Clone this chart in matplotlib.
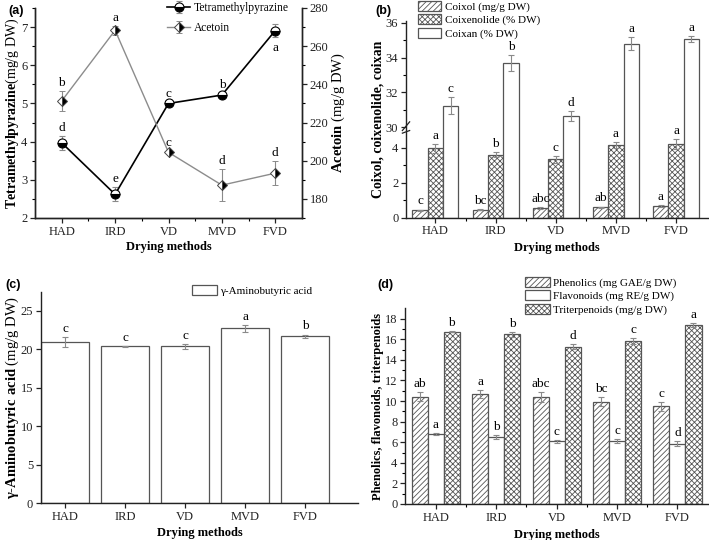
import numpy as np
import matplotlib
matplotlib.use('Agg')
import matplotlib.pyplot as plt

plt.rcParams['font.family'] = ['Liberation Serif', 'DejaVu Serif']
plt.rcParams['mathtext.fontset'] = 'custom'
plt.rcParams['mathtext.rm'] = 'Liberation Serif'
plt.rcParams['mathtext.bf'] = 'Liberation Serif:bold'
plt.rcParams['hatch.linewidth'] = 0.6
plt.rcParams['axes.linewidth'] = 1.0

methods = ['HAD', 'IRD', 'VD', 'MVD', 'FVD']

# (a) tetramethylpyrazine (left axis) and acetoin (right axis)
tmp = [3.97, 2.62, 5.00, 5.22, 6.91]
tmp_err = [0.18, 0.18, 0.04, 0.04, 0.17]
tmp_let = ['d', 'e', 'c', 'b', 'a']
acetoin = [231.3, 268.3, 204.4, 187.2, 193.5]
acetoin_err = [5.0, 2.2, 0.5, 8.5, 6.2]
acetoin_let = ['b', 'a', 'c', 'd', 'd']

# (b) coixol, coixenolide, coixan
coixol = [0.42, 0.46, 0.55, 0.58, 0.66]
coixol_err = [0.04, 0.05, 0.04, 0.05, 0.04]
coixol_let = ['c', 'bc', 'abc', 'ab', 'a']
coixenolide = [3.98, 3.62, 3.34, 4.17, 4.22]
coixenolide_err = [0.25, 0.15, 0.2, 0.18, 0.3]
coixenolide_let = ['a', 'b', 'c', 'a', 'a']
coixan = [31.23, 33.7, 30.64, 34.8, 35.08]
coixan_err = [0.5, 0.46, 0.3, 0.38, 0.16]
coixan_let = ['c', 'b', 'd', 'a', 'a']

# (c) GABA
gaba = [20.95, 20.42, 20.38, 22.72, 21.68]
gaba_err = [0.65, 0.05, 0.3, 0.5, 0.25]
gaba_let = ['c', 'c', 'c', 'a', 'b']

# (d) phenolics, flavonoids, triterpenoids
phen = [10.43, 10.69, 10.37, 9.95, 9.47]
phen_err = [0.45, 0.38, 0.48, 0.4, 0.42]
phen_let = ['ab', 'a', 'abc', 'bc', 'c']
flav = [6.83, 6.50, 6.08, 6.14, 5.87]
flav_err = [0.1, 0.2, 0.12, 0.18, 0.25]
flav_let = ['a', 'b', 'c', 'c', 'd']
trit = [16.74, 16.48, 15.29, 15.80, 17.39]
trit_err = [0.08, 0.25, 0.2, 0.3, 0.2]
trit_let = ['b', 'b', 'd', 'c', 'a']

W, H = 709, 540
fig = plt.figure(figsize=(W / 100, H / 100), dpi=100)


def box(l, r, t, b):
    return [l / W, 1 - b / H, (r - l) / W, (b - t) / H]


def style(ax, spines=('left', 'bottom')):
    for s in ax.spines:
        ax.spines[s].set_visible(s in spines)
        ax.spines[s].set_color('#222222')
    ax.tick_params(direction='out', length=3.5, width=0.9, pad=2, labelsize=9, colors='#222222')
    ax.tick_params(which='minor', direction='out', length=2, width=0.8)


def letters(ax, xs, ys, errs, labs, dy=1.5, below=None):
    for i, (x, y, e, t) in enumerate(zip(xs, ys, errs, labs)):
        if below is not None and i in below:
            ax.annotate(t, (x, y - e), xytext=(0, -dy - 2), textcoords='offset points',
                        ha='center', va='top', fontsize=9.5)
        else:
            ax.annotate(t, (x, y + e), xytext=(0, dy), textcoords='offset points',
                        ha='center', va='bottom', fontsize=9.5)


x = np.arange(1, 6)
xl_kw = dict(fontsize=9, fontweight='bold', va='center')
ebar = dict(ecolor='#8a8a8a', elinewidth=0.8, capsize=2.0, capthick=0.8)
leg_kw = dict(frameon=False, fontsize=8, handletextpad=0.3, borderpad=0.1, borderaxespad=0)

# ---------------- (a)
ax = fig.add_axes(box(35, 302, 8, 218))
style(ax, ('left', 'bottom', 'right'))
ax2 = ax.twinx()
style(ax2, ('left', 'bottom', 'right'))
ax.errorbar(x, tmp, yerr=tmp_err, color='black', lw=1.2, marker='o', ms=6.5,
            fillstyle='bottom', markerfacecoloralt='white', mec='black', mew=0.8,
            label='Tetramethylpyrazine', zorder=3, **ebar)
ax2.errorbar(x, acetoin, yerr=acetoin_err, color='#8c8c8c', lw=1.0, marker='D', ms=5,
             fillstyle='right', mfc='black', markerfacecoloralt='white', mec='#444444', mew=0.7,
             label='Acetoin', zorder=3, **ebar)
ax.set_xlim(0.5, 5.5)
ax.set_ylim(2, 7.5)
ax2.set_ylim(170, 280)
ax.set_xticks(x)
ax.set_xticklabels(methods)
ax.set_xticks(np.arange(1.5, 5.5, 1), minor=True)
ax.set_yticks(np.arange(2, 8))
ax.set_yticks(np.arange(2.5, 7.6, 1), minor=True)
ax2.set_yticks(np.arange(180, 281, 20))
ax2.set_yticks(np.arange(170, 281, 10), minor=True)
letters(ax, x, tmp, tmp_err, tmp_let, below=[4])
letters(ax2, x, acetoin, acetoin_err, acetoin_let)
ax.set_xlabel('Drying methods', **xl_kw)
ax.xaxis.set_label_coords(0.5, -0.14)
ax.set_ylabel(r'$\mathbf{Tetramethylpyrazine}$(mg/g DW)', fontsize=10, va='center')
ax.yaxis.set_label_coords(-0.085, 0.5)
ax2.set_ylabel(r'$\mathbf{Acetoin}$ (mg/g DW)', fontsize=10.5, va='center', rotation=90)
ax2.yaxis.set_label_coords(1.135, 0.5)
h1, l1 = ax.get_legend_handles_labels()
h2, l2 = ax2.get_legend_handles_labels()
ax2.legend(h1 + h2, l1 + l2, loc='upper left', bbox_to_anchor=(166 / W, 1 - 1 / H),
           bbox_transform=fig.transFigure, handlelength=2.0, labelspacing=0.7,
           **dict(leg_kw, fontsize=8.3))
fig.text(8 / W, 1 - 11 / H, '(a)', family='Liberation Sans', fontweight='bold', fontsize=9, va='center')

# ---------------- (b) broken axis
brk_lo, brk_hi, gap = 5.0, 30.0, 0.2


def fwd(y):
    y = np.asarray(y, float)
    return np.where(y <= brk_lo, y,
                    np.where(y < brk_hi, brk_lo + (y - brk_lo) * gap / (brk_hi - brk_lo),
                             y - brk_hi + brk_lo + gap))


def inv(v):
    v = np.asarray(v, float)
    return np.where(v <= brk_lo, v,
                    np.where(v < brk_lo + gap, brk_lo + (v - brk_lo) * (brk_hi - brk_lo) / gap,
                             v + brk_hi - brk_lo - gap))


bw = 0.255
bar_kw = dict(edgecolor='#555555', linewidth=0.9, error_kw=ebar)
ax = fig.add_axes(box(406, 708, 21, 217.5))
style(ax)
ax.set_yscale('function', functions=(fwd, inv))
ax.bar(x - bw, coixol, bw, yerr=coixol_err, color='white', hatch='//////', label='Coixol (mg/g DW)', **bar_kw)
ax.bar(x, coixenolide, bw, yerr=coixenolide_err, color='white', hatch='xxxxxx', label='Coixenolide (% DW)', **bar_kw)
ax.bar(x + bw, coixan, bw, yerr=coixan_err, color='white', label='Coixan (% DW)', **bar_kw)
ax.set_xlim(0.51, 5.53)
ax.set_ylim(0, 36.1)
ax.set_yticks([0, 2, 4, 30, 32, 34, 36])
ax.set_yticks([1, 3, 31, 33, 35], minor=True)
ax.set_xticks(x)
ax.set_xticklabels(methods)
ax.set_xticks(np.arange(1.5, 5.5, 1), minor=True)
letters(ax, x - bw, coixol, coixol_err, coixol_let)
letters(ax, x, coixenolide, coixenolide_err, coixenolide_let)
letters(ax, x + bw, coixan, coixan_err, coixan_let)
# break marks on the y axis
tr = ax.get_yaxis_transform()
ax.plot([-0.012, 0.012], [4.85, 5.1], transform=tr, color='#222222', lw=0.9, clip_on=False)
ax.plot([-0.012, 0.012], [5.15, 30.3], transform=tr, color='#222222', lw=0.9, clip_on=False)
ax.set_xlabel('Drying methods', **xl_kw)
ax.xaxis.set_label_coords(0.5, -0.155)
ax.set_ylabel('Coixol, coixenolide, coixan', fontsize=10, fontweight='bold', va='center')
ax.yaxis.set_label_coords(-0.092, 0.5)
ax.legend(loc='upper left', bbox_to_anchor=(417 / W, 1 - 0 / H), bbox_transform=fig.transFigure,
          handlelength=2.1, handleheight=1.0, labelspacing=0.2, **leg_kw)
fig.text(375 / W, 1 - 11 / H, '(b)', family='Liberation Sans', fontweight='bold', fontsize=9, va='center')

# ---------------- (c)
ax = fig.add_axes(box(40.7, 358, 291.7, 503.3))
style(ax)
ax.bar(x, gaba, 0.8, yerr=gaba_err, color='white', label='\u03b3-Aminobutyric acid', **bar_kw)
ax.set_xlim(0.595, 5.88)
ax.set_ylim(0, 27.5)
ax.set_yticks(np.arange(0, 26, 5))
ax.set_xticks(x)
ax.set_xticklabels(methods)
letters(ax, x, gaba, gaba_err, gaba_let)
ax.set_xlabel('Drying methods', **xl_kw)
ax.xaxis.set_label_coords(0.5, -0.14)
ax.set_ylabel('$\\mathbf{\u03b3\u2010Aminobutyric\\ acid}$ (mg/g DW)', fontsize=10.5, va='center')
ax.yaxis.set_label_coords(-0.088, 0.5)
ax.legend(loc='upper left', bbox_to_anchor=(191 / W, 1 - 284 / H), bbox_transform=fig.transFigure,
          handlelength=2.2, handleheight=1.0, **leg_kw)
fig.text(5 / W, 1 - 285 / H, '(c)', family='Liberation Sans', fontweight='bold', fontsize=9, va='center')

# ---------------- (d)
bw = 0.265
ax = fig.add_axes(box(405, 708, 308.3, 504))
style(ax)
ax.bar(x - bw, phen, bw, yerr=phen_err, color='white', hatch='//////', label='Phenolics (mg GAE/g DW)', **bar_kw)
ax.bar(x, flav, bw, yerr=flav_err, color='white', label='Flavonoids (mg RE/g DW)', **bar_kw)
ax.bar(x + bw, trit, bw, yerr=trit_err, color='white', hatch='xxxxxx', label='Triterpenoids (mg/g DW)', **bar_kw)
ax.set_xlim(0.49, 5.505)
ax.set_ylim(0, 19)
ax.set_yticks(np.arange(0, 19, 2))
ax.set_yticks(np.arange(1, 19, 2), minor=True)
ax.set_xticks(x)
ax.set_xticklabels(methods)
ax.set_xticks(np.arange(1.5, 5.5, 1), minor=True)
letters(ax, x - bw, phen, phen_err, phen_let)
letters(ax, x, flav, flav_err, flav_let)
letters(ax, x + bw, trit, trit_err, trit_let)
ax.set_xlabel('Drying methods', **xl_kw)
ax.xaxis.set_label_coords(0.5, -0.16)
ax.set_ylabel('Phenolics, flavonoids, triterpenoids', fontsize=9, fontweight='bold', va='center')
ax.yaxis.set_label_coords(-0.088, 0.5)
ax.legend(loc='upper left', bbox_to_anchor=(524 / W, 1 - 276 / H), bbox_transform=fig.transFigure,
          handlelength=2.2, handleheight=1.0, labelspacing=0.2, **leg_kw)
fig.text(377 / W, 1 - 285 / H, '(d)', family='Liberation Sans', fontweight='bold', fontsize=9, va='center')

fig.savefig('out.png', dpi=100)
